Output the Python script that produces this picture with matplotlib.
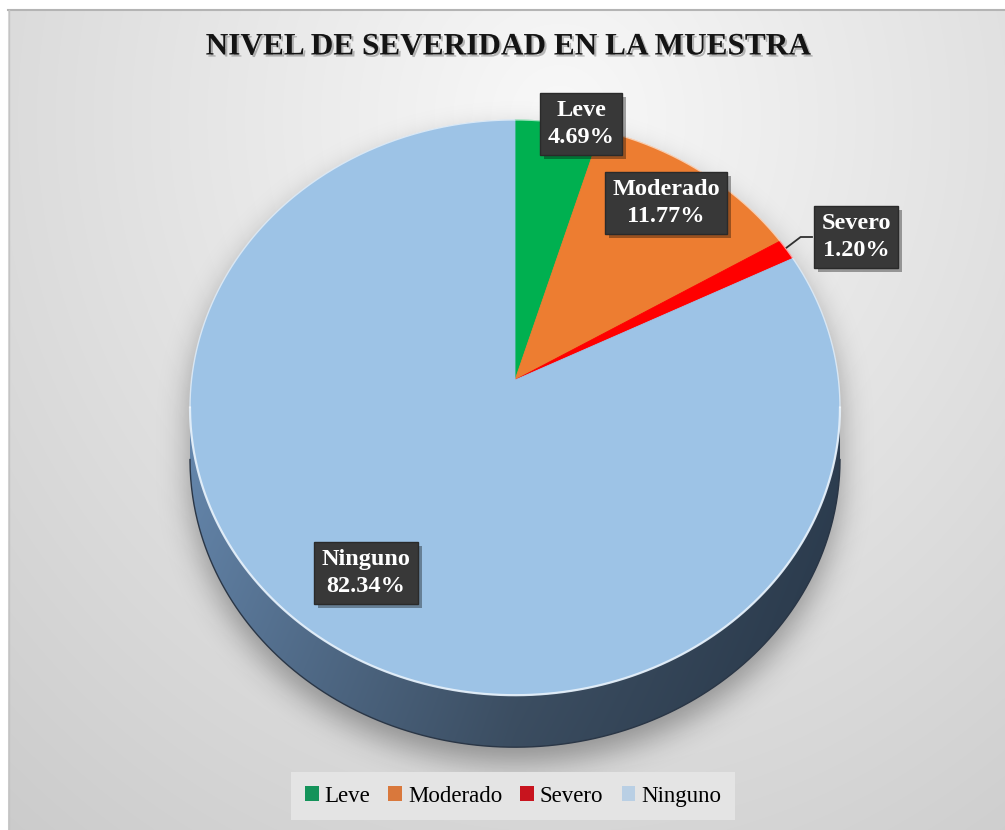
import numpy as np
import matplotlib
matplotlib.use("Agg")
import matplotlib.pyplot as plt
from matplotlib.patches import Polygon, Rectangle
from matplotlib.path import Path
from matplotlib.font_manager import FontProperties
import matplotlib.patheffects as pe

# ---- data -------------------------------------------------------------
categories = ["Leve", "Moderado", "Severo", "Ninguno"]
percentages = [4.69, 11.77, 1.20, 82.34]
slice_colors = ["#00b050", "#ed7d31", "#ff0000", "#9dc3e6"]
legend_colors = ["#14935a", "#d9783c", "#c8141e", "#b9cfe4"]
chart_title = "NIVEL DE SEVERIDAD EN LA MUESTRA"

# ---- canvas -----------------------------------------------------------
W, H = 1005, 830
fig = plt.figure(figsize=(W / 100, H / 100), dpi=100)
fig.patch.set_facecolor("white")
ax = fig.add_axes([0, 0, 1, 1])
ax.set_xlim(0, W)
ax.set_ylim(H, 0)
ax.axis("off")

SERIF = ["Liberation Serif", "DejaVu Serif"]

# chart area with a soft radial gradient
left, top = 8, 10
gy, gx = np.mgrid[0:H, 0:W] + 0.5
d = np.sqrt(((gx - 560) / 700.0) ** 2 + ((gy - 120) / 760.0) ** 2)
shade = np.clip(0.975 - 0.145 * d, 0, 1)
bg = np.dstack([shade, shade, shade])
bg[:top, :, :] = 1.0
bg[:, :left, :] = 1.0
ax.imshow(bg, extent=(0, W, H, 0), interpolation="bilinear", zorder=0)
ax.plot([left, W], [top + 0.5, top + 0.5], color="#b4b4b4", lw=1.5, zorder=1)
ax.plot([left + 0.5, left + 0.5], [top, H], color="#c4c4c4", lw=1.0, zorder=1)

# ---- pie geometry (tilted disc seen in perspective) --------------------
cx, cy = 515.0, 380.0
A, B, k = 323.5, 285.0, 0.0958
depth = 52.0


def project(theta):
    """Map an angle (clockwise from 12 o'clock) on the disc to screen px."""
    X, Z = np.sin(theta), np.cos(theta)
    den = 1 + k * Z
    return cx + A * X / den, cy - B * Z / den


th_r = np.arccos(-k)
th_l = 2 * np.pi - th_r

# silhouette of the whole disc (top face + rim) for the shadow
back = np.linspace(th_l - 2 * np.pi, th_r, 400)
front = np.linspace(th_r, th_l, 400)
bx, by = project(back)
fx, fy = project(front)
sil_path = Path(np.vstack([np.column_stack([bx, by]),
                           np.column_stack([fx, fy + depth])]))

# soft drop shadow
pts = np.column_stack([gx.ravel(), gy.ravel() - 16])
mask = sil_path.contains_points(pts).reshape(H, W).astype(float)
F = np.fft.rfft2(mask)
fy_ = np.fft.fftfreq(H)[:, None]
fx_ = np.fft.rfftfreq(W)[None, :]
sig = 15.0
blur = np.fft.irfft2(F * np.exp(-2 * (np.pi * sig) ** 2 * (fx_ ** 2 + fy_ ** 2)), s=(H, W))
blur = np.clip(blur, 0, 1)
sh = np.zeros((H, W, 4))
sh[..., 3] = 0.34 * blur
ax.imshow(sh, extent=(0, W, H, 0), interpolation="bilinear", zorder=2)

# rim of the disc with a horizontal shading
rim_xy = np.vstack([np.column_stack([fx, fy]),
                    np.column_stack([fx, fy + depth])[::-1]])
rim = Polygon(rim_xy, closed=True, facecolor="none", edgecolor="none", zorder=3)
ax.add_patch(rim)
t = np.linspace(0, 1, 256)
c_left = np.array([0x66, 0x88, 0xae]) / 255
c_mid = np.array([0x45, 0x5a, 0x71]) / 255
c_right = np.array([0x2e, 0x3f, 0x52]) / 255
cols = np.where(t[:, None] < 0.5,
                c_left + (c_mid - c_left) * (t[:, None] / 0.5),
                c_mid + (c_right - c_mid) * ((t[:, None] - 0.5) / 0.5))
vgrad = np.linspace(1.0, 0.85, 64)[:, None, None]
rim_img = cols[None, :, :] * vgrad
xmin, xmax = fx.min(), fx.max()
im = ax.imshow(rim_img, extent=(xmin, xmax, fy.max() + depth, fy.min()),
               interpolation="bilinear", zorder=3, aspect="auto")
im.set_clip_path(rim)
ax.plot(fx, fy + depth, color="#2a3646", lw=1.0, zorder=3.5)

# top face slices
fractions = np.array(percentages) / np.sum(percentages)
bounds = np.concatenate([[0], np.cumsum(fractions)]) * 2 * np.pi
for i, col in enumerate(slice_colors):
    arc = np.linspace(bounds[i], bounds[i + 1], max(4, int(fractions[i] * 600)))
    ax_, ay_ = project(arc)
    poly = np.vstack([[cx, cy], np.column_stack([ax_, ay_])])
    ax.add_patch(Polygon(poly, closed=True, facecolor=col, edgecolor=col,
                         lw=0.6, zorder=4))

# light rim highlight along the edge of the top face
ax.plot(fx, fy, color="#e8f2fb", lw=1.6, alpha=0.9, zorder=5)
ax.plot(bx, by, color="white", lw=1.0, alpha=0.6, zorder=5)

# ---- data labels -------------------------------------------------------
label_pos = [(581, 124), (666, 203), (856, 237), (366, 573)]
for name, val, (lx, ly) in zip(categories, percentages, label_pos):
    txt = ax.text(lx, ly, f"{name}\n{val:.2f}%", ha="center", va="center",
                  color="white", fontsize=17.5, fontweight="bold", family=SERIF,
                  linespacing=1.32, zorder=8,
                  bbox=dict(boxstyle="square,pad=0.3", facecolor="#383838",
                            edgecolor="#2a2a2a", lw=1.0))
    txt.get_bbox_patch().set_path_effects(
        [pe.withSimplePatchShadow(offset=(3, -3), shadow_rgbFace="black",
                                  alpha=0.35)])

# leader line for the thin "Severo" slice
mid = 0.5 * (bounds[2] + bounds[3])
mx, my = project(mid)
lx, ly = label_pos[2]
ax.plot([mx, mx + 14, lx - 44], [my - 2, ly, ly], color="#303030", lw=1.3,
        zorder=7)

# ---- title -------------------------------------------------------------
ax.text(508, 47, chart_title, ha="center", va="center", fontsize=22.5,
        fontweight="bold", family=SERIF, color="#141414", zorder=8,
        path_effects=[pe.withSimplePatchShadow(offset=(1.5, -1.5),
                                               shadow_rgbFace="black",
                                               alpha=0.25)])

# ---- legend ------------------------------------------------------------
handles = [Rectangle((0, 0), 1, 1, facecolor=c, edgecolor="none")
           for c in legend_colors]
leg = ax.legend(handles, categories, loc="center",
                bbox_to_anchor=(513 / W, 1 - 796 / H), bbox_transform=fig.transFigure,
                ncol=4, frameon=True, fancybox=False, handlelength=0.6,
                handleheight=0.6, handletextpad=0.25, columnspacing=0.8,
                borderpad=0.6,
                prop=FontProperties(family=SERIF, size=16.5))
leg.get_frame().set_facecolor("#e4e4e4")
leg.get_frame().set_edgecolor("none")
leg.get_frame().set_alpha(1.0)
leg.set_zorder(9)

fig.savefig("out.png", dpi=100)
